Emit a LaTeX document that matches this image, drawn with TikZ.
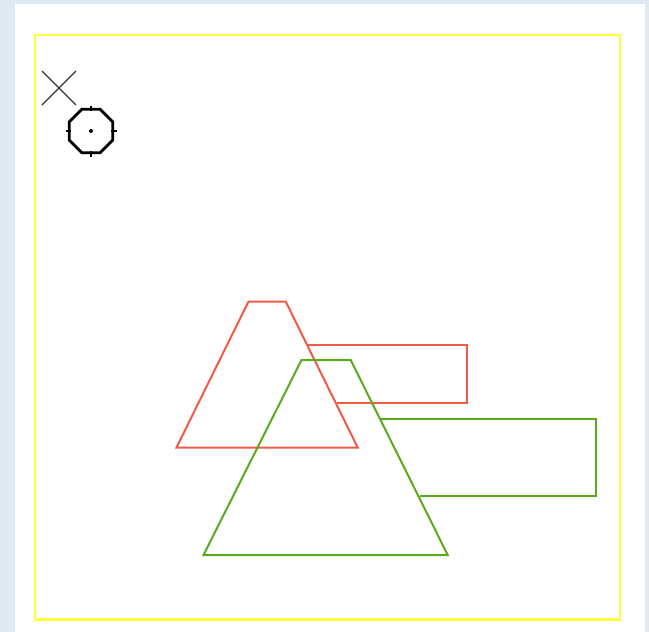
\documentclass[tikz,border=0pt]{standalone}
\definecolor{bgblue}{HTML}{DFE9F4}
\definecolor{ylw}{HTML}{FFFF3A}
\definecolor{redl}{HTML}{F05A46}
\definecolor{grnl}{HTML}{5AAA1E}
\begin{document}
\begin{tikzpicture}[x=1pt,y=-1pt,
  redshape/.style={draw=redl,line width=2pt,line join=miter},
  grnshape/.style={draw=grnl,line width=2pt,line join=miter},
  frame/.style={draw=ylw,line width=2.5pt}]
\useasboundingbox (0,0) rectangle (649,632);
\fill[bgblue] (0,0) rectangle (649,632);
\fill[white] (15,4) rectangle (645,632);
\draw[frame] (35,35) rectangle (620,619.5);
% cross
\draw[black!80,line width=1.4pt] (42,71) -- (76,105) (42,105) -- (76,71);
% octagon marker
\coordinate (oc) at (91,131);
\draw[black,line width=2.8pt] (oc) +(22.5:23.6) -- +(67.5:23.6) -- +(112.5:23.6) -- +(157.5:23.6) -- +(202.5:23.6) -- +(247.5:23.6) -- +(292.5:23.6) -- +(337.5:23.6) -- cycle;
\draw[black,line width=1.6pt] (oc) +(0,-20) -- +(0,-25.5) (oc) +(0,20) -- +(0,25.5) (oc) +(-20,0) -- +(-25.5,0) (oc) +(20,0) -- +(25.5,0);
\fill[black] (oc) circle (2);
% red shapes
\draw[redshape] (248.5,301.5) -- (285.7,301.5) -- (357.7,447.5) -- (176.5,447.5) -- cycle;
\draw[redshape] (308.3,344.5) -- (466.7,344.5) -- (466.7,402.7) -- (336.7,402.7);
% green shapes
\draw[grnshape] (301.5,360) -- (350.7,360) -- (447.7,555) -- (203.5,555) -- cycle;
\draw[grnshape] (381,419.3) -- (596,419.3) -- (596,496.3) -- (419.5,496.3);
\end{tikzpicture}
\end{document}
